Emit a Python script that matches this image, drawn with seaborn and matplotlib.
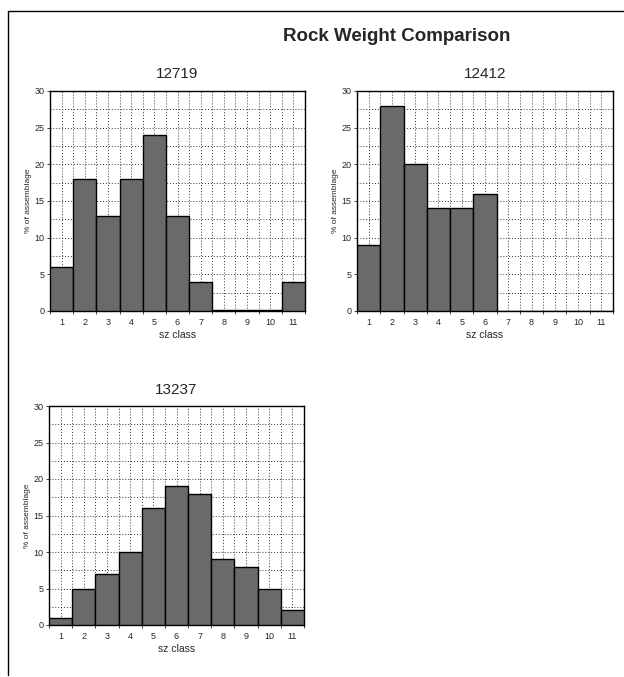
import numpy as np
import pandas as pd
import matplotlib
matplotlib.use("Agg")
import matplotlib.pyplot as plt
from matplotlib.lines import Line2D
from matplotlib.ticker import MultipleLocator
import seaborn as sns

# size classes and % of assemblage per rock group
sz_classes = [str(i) for i in range(1, 12)]
pct_12719 = [6, 18, 13, 18, 24, 13, 4, 0.15, 0.1, 0.15, 4]
pct_12412 = [9, 28, 20, 14, 14, 16, 0, 0, 0, 0, 0]
pct_13237 = [1, 5, 7, 10, 16, 19, 18, 9, 8, 5, 2]

sns.set_style("white")
plt.rcParams['font.family'] = ['Liberation Sans', 'DejaVu Sans']

fig = plt.figure(figsize=(6.24, 6.77), dpi=100)

W, H = 624, 677


def px_axes(left, top, right, bottom):
    return fig.add_axes([left / W, 1 - bottom / H, (right - left) / W, (bottom - top) / H])


panels = [
    ("12719", pct_12719, (50, 91, 305, 311)),
    ("12412", pct_12412, (357, 91, 613, 311)),
    ("13237", pct_13237, (49, 406, 304, 625)),
]

for name, vals, box in panels:
    ax = px_axes(*box)
    df = pd.DataFrame({'sz class': sz_classes, 'pct': vals})
    sns.barplot(data=df, x='sz class', y='pct', width=1.0, color='#6a6a6a',
                saturation=1, edgecolor='black', linewidth=1.0, ax=ax, zorder=3)
    ax.set_xlim(-0.5, 10.5)
    ax.set_ylim(0, 30)
    ax.yaxis.set_major_locator(MultipleLocator(5))
    ax.yaxis.set_minor_locator(MultipleLocator(2.5))
    ax.xaxis.set_minor_locator(MultipleLocator(1, offset=0.5))
    ax.grid(True, which='both', axis='both', color='#333333', linestyle=(0, (1, 2)),
            linewidth=0.7, zorder=0)
    ax.set_axisbelow(True)
    ax.tick_params(axis='x', which='major', length=0, labelsize=6.5, pad=5)
    ax.tick_params(axis='x', which='minor', length=2, width=0.6, direction='out', bottom=True)
    ax.tick_params(axis='y', which='major', length=2, width=0.6, labelsize=6.5, pad=2, left=True)
    ax.tick_params(axis='y', which='minor', length=0)
    for s in ax.spines.values():
        s.set_color('black')
        s.set_linewidth(1.0)
    ax.set_xlabel('sz class', fontsize=7.5, labelpad=2)
    ax.set_ylabel('% of assemblage', fontsize=6, labelpad=1.5)
    ax.set_title(name, fontsize=11, pad=9)

fig.text(0.635, 0.946, 'Rock Weight Comparison', ha='center', va='center',
         fontsize=13.5, fontweight='bold')

# page frame: top and left edges
fig.add_artist(Line2D([8 / W, 1.0], [1 - 11 / H, 1 - 11 / H], color='black', linewidth=1.0))
fig.add_artist(Line2D([8 / W, 8 / W], [1 - 11 / H, 1 - 675 / H], color='black', linewidth=1.0))

fig.savefig('out.png', dpi=100)
